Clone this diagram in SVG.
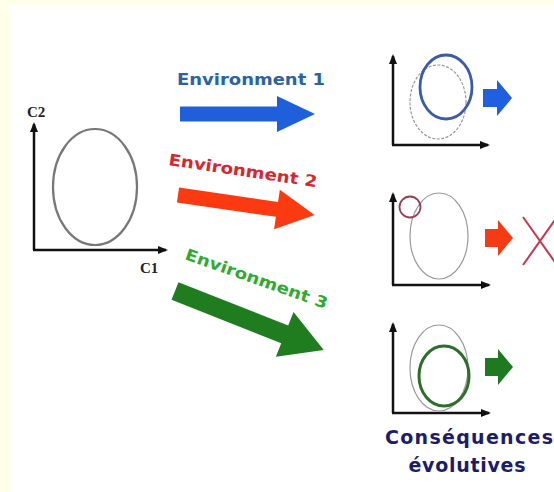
<svg xmlns="http://www.w3.org/2000/svg" width="554" height="492" viewBox="0 0 554 492">
<defs>
<style>
.axis{stroke:#111;stroke-width:2.5;fill:none}
.env{font-family:"DejaVu Sans",sans-serif;font-weight:bold;font-size:16px}
.ax{font-family:"Liberation Serif",serif;font-weight:bold;font-size:15px;fill:#222}
.ghost{fill:none;stroke:#999;stroke-width:1.2}
.cons{font-family:"DejaVu Sans",sans-serif;font-weight:bold;font-size:19px;fill:#1c1c6c}
</style>
<marker id="ah" viewBox="0 0 10 10" refX="8" refY="5" markerWidth="4" markerHeight="4" orient="auto"><path d="M0,1 L10,5 L0,9 z" fill="#111"/></marker>
</defs>
<rect width="554" height="492" fill="#ffffff"/>
<rect x="0" y="0" width="554" height="5" fill="#ffffea"/>
<rect x="0" y="0" width="10" height="492" fill="#ffffea"/>

<g id="main-plot">
<path class="axis" d="M34,250 V124" marker-end="url(#ah)"/>
<path class="axis" d="M33,250 H166" marker-end="url(#ah)"/>
<ellipse cx="95" cy="187" rx="42" ry="58" fill="none" stroke="#777" stroke-width="2.2"/>
<text class="ax" x="27" y="117">C2</text>
<text class="ax" x="140" y="273">C1</text>
</g>

<g id="connectors">
<g id="arrow1" transform="translate(180,114)">
<polygon points="0,-7.5 97,-7.5 97,-18 135,0 97,18 97,7.5 0,7.5" fill="#1f5fd9"/>
</g>
<g id="arrow2" transform="translate(178,195) rotate(8.3)">
<polygon points="0,-7.5 100,-7.5 100,-20 138,0 100,20 100,7.5 0,7.5" fill="#fb3a12"/>
</g>
<g id="arrow3" transform="translate(175,291) rotate(21.6)">
<polygon points="0,-9.5 118,-9.5 118,-24 160,0 118,24 118,9.5 0,9.5" fill="#1f7d1f"/>
</g>
</g>

<g id="label-env1">
<text class="env" x="177" y="85" fill="#2a62a8" textLength="148" lengthAdjust="spacingAndGlyphs">Environment 1</text>
</g>
<g id="label-env2">
<text class="env" transform="translate(168,165) rotate(8.5)" fill="#d9262e" textLength="150" lengthAdjust="spacingAndGlyphs">Environment 2</text>
</g>
<g id="label-env3">
<text class="env" transform="translate(184,259) rotate(19.5)" fill="#2faa2f" textLength="150" lengthAdjust="spacingAndGlyphs">Environment 3</text>
</g>

<g id="panel1">
<path class="axis" d="M393,145 V56" stroke-width="2" marker-end="url(#ah)"/>
<path class="axis" d="M392,145 H488" stroke-width="2" marker-end="url(#ah)"/>
<ellipse class="ghost" cx="438" cy="102" rx="28" ry="37" stroke-dasharray="3,1.5"/>
<ellipse cx="446" cy="87" rx="26" ry="32" fill="none" stroke="#3b5ba8" stroke-width="2.8"/>
<polygon points="483,89 497,89 497,80 512,98 497,116 497,107 483,107" fill="#1f5fe0"/>
</g>

<g id="panel2">
<path class="axis" d="M393,285 V194" stroke-width="2" marker-end="url(#ah)"/>
<path class="axis" d="M392,285 H489" stroke-width="2" marker-end="url(#ah)"/>
<ellipse class="ghost" cx="439" cy="236" rx="29" ry="43"/>
<circle cx="410" cy="207" r="10.5" fill="none" stroke="#9b3b55" stroke-width="1.8"/>
<polygon points="485,229 498,229 498,220 513,238 498,256 498,247 485,247" fill="#f63a14"/>
<path d="M523,217 L557,265 M523,265 L557,217" stroke="#c9344f" stroke-width="2" fill="none"/>
</g>

<g id="panel3">
<path class="axis" d="M393,413 V324" stroke-width="2" marker-end="url(#ah)"/>
<path class="axis" d="M392,413 H489" stroke-width="2" marker-end="url(#ah)"/>
<ellipse class="ghost" cx="439" cy="368" rx="29" ry="43"/>
<ellipse cx="444" cy="376" rx="25" ry="30" fill="none" stroke="#2d6e2d" stroke-width="3"/>
<polygon points="485,358 498,358 498,349 513,367 498,385 498,376 485,376" fill="#1e7a1e"/>
</g>

<g id="caption">
<text class="cons" x="469" y="444" text-anchor="middle" textLength="168" lengthAdjust="spacing">Conséquences</text>
<text class="cons" x="467" y="472" text-anchor="middle" textLength="117" lengthAdjust="spacing">évolutives</text>
</g>
</svg>
